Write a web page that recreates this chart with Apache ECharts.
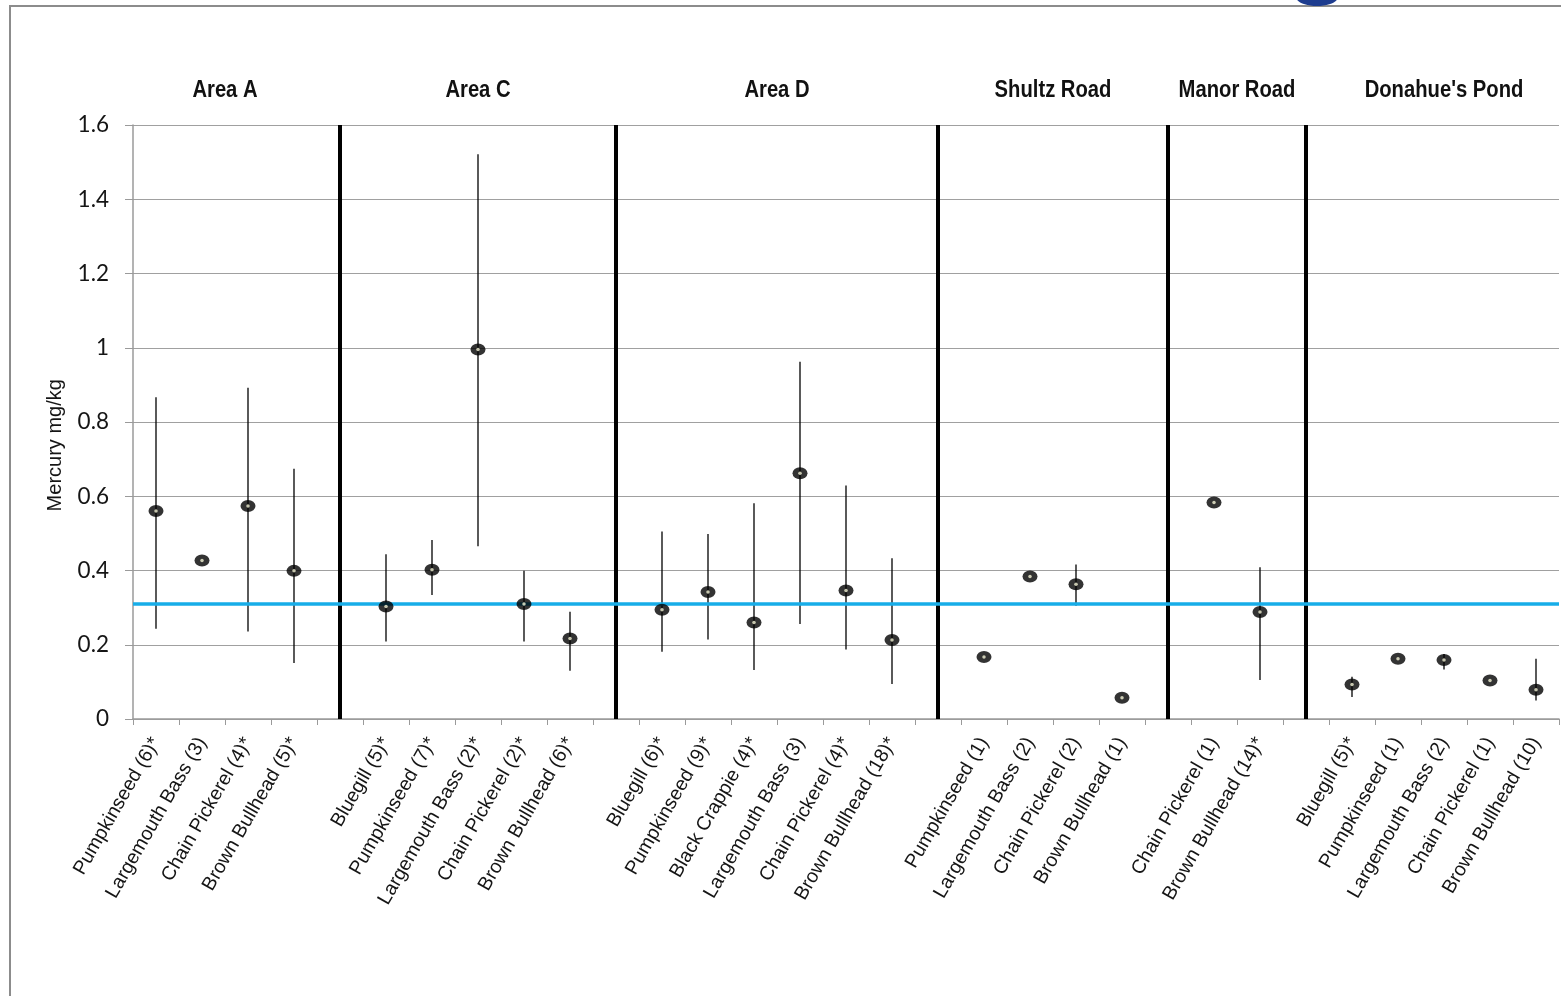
<!DOCTYPE html>
<html>
<head>
<meta charset="utf-8">
<title>Mercury in fish tissue by location</title>
<script src="https://cdn.jsdelivr.net/npm/echarts@6/dist/echarts.min.js"></script>
<style>
  html, body { margin: 0; padding: 0; background: #ffffff; }
  #chart { width: 1561px; height: 996px; }
</style>
</head>
<body>
<div id="chart"></div>
<script>
// Species (sample count) per location; empty slots separate the locations.
const categories = [
  'Pumpkinseed (6)*', 'Largemouth Bass (3)', 'Chain Pickerel (4)*', 'Brown Bullhead (5)*', '',
  'Bluegill (5)*', 'Pumpkinseed (7)*', 'Largemouth Bass (2)*', 'Chain Pickerel (2)*', 'Brown Bullhead (6)*', '',
  'Bluegill (6)*', 'Pumpkinseed (9)*', 'Black Crappie (4)*', 'Largemouth Bass (3)', 'Chain Pickerel (4)*', 'Brown Bullhead (18)*', '',
  'Pumpkinseed (1)', 'Largemouth Bass (2)', 'Chain Pickerel (2)', 'Brown Bullhead (1)', '',
  'Chain Pickerel (1)', 'Brown Bullhead (14)*', '',
  'Bluegill (5)*', 'Pumpkinseed (1)', 'Largemouth Bass (2)', 'Chain Pickerel (1)', 'Brown Bullhead (10)'
];

// Mean mercury concentration (mg/kg)
const meanValues = [
  0.560, 0.427, 0.574, 0.399, null,
  0.303, 0.402, 0.995, 0.310, 0.217, null,
  0.294, 0.342, 0.260, 0.662, 0.346, 0.213, null,
  0.167, 0.384, 0.363, 0.057, null,
  0.583, 0.288, null,
  0.093, 0.162, 0.159, 0.104, 0.079
];

// Range of individual samples (low / high); null where only a mean is shown
const lowValues = [
  0.243, null, 0.236, 0.151, null,
  0.209, 0.334, 0.465, 0.209, 0.130, null,
  0.181, 0.214, 0.132, 0.256, 0.187, 0.094, null,
  null, null, 0.305, null, null,
  null, 0.105, null,
  0.059, null, 0.133, null, 0.050
];
const highValues = [
  0.867, null, 0.892, 0.674, null,
  0.444, 0.482, 1.521, 0.399, 0.289, null,
  0.505, 0.498, 0.581, 0.962, 0.629, 0.433, null,
  null, null, 0.416, null, null,
  null, 0.409, null,
  0.114, null, 0.175, null, 0.162
];

// Location headings with the first and last category index they span
const groupNames = ['Area A', 'Area C', 'Area D', 'Shultz Road', 'Manor Road', "Donahue's Pond"];
const groupStart = [0, 5, 11, 18, 23, 26];
const groupEnd = [3, 9, 16, 21, 24, 30];

// Category slots holding the heavy location dividers
const dividerIdx = [4, 10, 17, 22, 25];

// Reference concentration drawn across the chart (mg/kg)
const referenceLevel = 0.306;

const yTicks = { min: 0, max: 1.6, interval: 0.2 };
const yTitle = 'Mercury mg/kg';

const chart = echarts.init(document.getElementById('chart'), null, { renderer: 'canvas' });

const meanData = meanValues.map((v, i) => (v == null ? null : [i, v]));
const rangeData = [];
lowValues.forEach((lo, i) => {
  if (lo != null && highValues[i] != null) rangeData.push([i, lo, highValues[i]]);
});
const dividerData = dividerIdx.map(i => [i, yTicks.min, yTicks.max]);

const gridBox = { left: 133, right: 2, top: 125, bottom: 277 };

function verticalLine(width) {
  return function (params, api) {
    const top = api.coord([api.value(0), api.value(2)]);
    const bottom = api.coord([api.value(0), api.value(1)]);
    return {
      type: 'line',
      shape: { x1: top[0], y1: top[1], x2: bottom[0], y2: bottom[1] },
      style: { stroke: '#000000', lineWidth: width }
    };
  };
}

const option = {
  backgroundColor: '#ffffff',
  animation: false,
  grid: gridBox,
  xAxis: {
    type: 'category',
    data: categories,
    boundaryGap: true,
    axisLine: { lineStyle: { color: '#9a9a9a', width: 1.5 } },
    axisTick: { show: true, length: 6, lineStyle: { color: '#9a9a9a' } },
    axisLabel: {
      interval: 0,
      rotate: 60,
      margin: 20,
      fontFamily: "'Liberation Sans', Arial, sans-serif",
      fontSize: 19.5,
      color: '#151515'
    },
    splitLine: { show: false }
  },
  yAxis: {
    type: 'value',
    min: yTicks.min,
    max: yTicks.max,
    interval: yTicks.interval,
    axisLine: { show: true, lineStyle: { color: '#9a9a9a', width: 1.5 } },
    axisTick: { show: true, length: 8, lineStyle: { color: '#9a9a9a' } },
    axisLabel: {
      margin: 24,
      fontFamily: "Lato, 'Open Sans', sans-serif",
      fontSize: 22.5,
      color: '#151515',
      formatter: v => String(Math.round(v * 10) / 10)
    },
    splitLine: { show: true, lineStyle: { color: '#a0a0a0', width: 1.2 } }
  },
  series: [
    {
      name: 'dividers',
      type: 'custom',
      data: dividerData,
      renderItem: verticalLine(4),
      encode: { x: 0, y: [1, 2] },
      silent: true,
      z: 3
    },
    {
      name: 'range',
      type: 'custom',
      data: rangeData,
      renderItem: verticalLine(1.3),
      encode: { x: 0, y: [1, 2] },
      silent: true,
      z: 4,
      markLine: {
        symbol: 'none',
        silent: true,
        label: { show: false },
        lineStyle: { color: '#17ade8', width: 3.5, type: 'solid' },
        data: [{ yAxis: referenceLevel }],
        z: 5
      }
    },
    {
      name: 'mean',
      type: 'scatter',
      data: meanData,
      symbol: 'circle',
      symbolSize: [15, 12],
      itemStyle: { color: '#000000' },
      z: 6
    },
    {
      name: 'mean centre',
      type: 'scatter',
      data: meanData,
      symbol: 'circle',
      symbolSize: 3.5,
      itemStyle: { color: '#f4f4d6' },
      z: 7
    }
  ]
};

chart.setOption(option);

// Location headings centred over their species, the y-axis title and the page frame
const headings = groupNames.map((name, g) => {
  const x0 = chart.convertToPixel({ xAxisIndex: 0 }, groupStart[g]);
  const x1 = chart.convertToPixel({ xAxisIndex: 0 }, groupEnd[g]);
  return {
    type: 'text',
    x: (x0 + x1) / 2,
    y: 91,
    scaleX: 0.86,
    style: {
      text: name,
      fontFamily: "'Liberation Sans', Arial, sans-serif",
      fontWeight: 'bold',
      fontSize: 23.5,
      fill: '#111111',
      align: 'center',
      verticalAlign: 'middle'
    }
  };
});

const yMid = chart.convertToPixel({ yAxisIndex: 0 }, 0.74);

chart.setOption({
  graphic: [
    {
      type: 'rect',
      shape: { x: 10, y: 6, width: 1570, height: 1010 },
      style: { fill: null, stroke: '#8c8c8c', lineWidth: 2 },
      silent: true,
      z: 1
    },
    {
      type: 'ellipse',
      shape: { cx: 1317, cy: -3, rx: 21, ry: 9 },
      style: { fill: '#1d3c8f' },
      silent: true,
      z: 2
    },
    {
      type: 'text',
      x: 55,
      y: yMid + 1,
      rotation: Math.PI / 2,
      style: {
        text: yTitle,
        fontFamily: "'Liberation Sans', Arial, sans-serif",
        fontSize: 20,
        fill: '#151515',
        align: 'center',
        verticalAlign: 'middle'
      },
      silent: true
    }
  ].concat(headings)
});
</script>
</body>
</html>
